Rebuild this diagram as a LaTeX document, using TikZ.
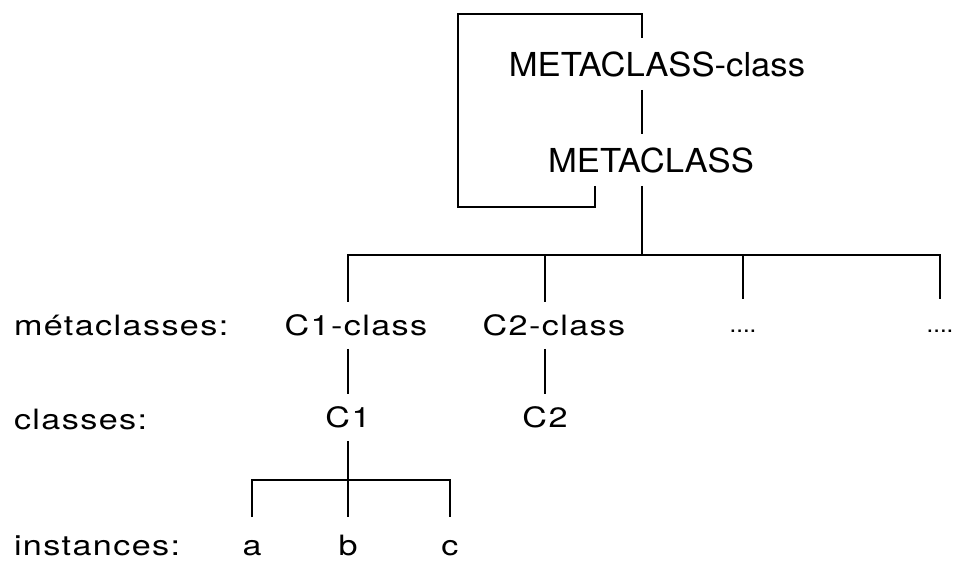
\documentclass[tikz,border=0pt]{standalone}
\usepackage{fontspec}
\newfontfamily\herosrow[FakeStretch=1.22, LetterSpace=5]{TeX Gyre Heros}
\newfontfamily\herostop[FakeStretch=1.05]{TeX Gyre Heros}
\newfontfamily\herosplain{TeX Gyre Heros}
\newcommand{\rowfont}{\herosrow\fontsize{28}{32}\selectfont}
\newcommand{\topfont}{\herostop\fontsize{33}{38}\selectfont}
\newcommand{\dotfont}{\herosplain\fontsize{24}{28}\selectfont}

\begin{document}
\begin{tikzpicture}[x=1pt, y=-1pt, line width=2pt,
    txt/.style = {anchor=base, inner xsep=0pt, inner ysep=12pt,
                  text height=21pt, text depth=0pt, font=\rowfont},
    toptxt/.style = {txt, text height=26pt, font=\topfont},
    dots/.style = {txt, font=\dotfont},
    row/.style = {txt, anchor=base west},
    low/.style = {inner ysep=2pt, text height=35pt}]
\useasboundingbox (0,0) rectangle (954,561);
\coordinate (spine) at (642,0);
\coordinate (hook) at (595,0);
\coordinate (loopsw) at (458,207);
\coordinate (loopnw) at (458,14);
\coordinate (bus) at (0,255);
\coordinate (ibus) at (0,480);

\node[toptxt] (metaclassclass) at (657,77) {METACLASS-class};
\node[toptxt] (metaclass) at (651,173) {METACLASS};

\node[row] (lmeta) at (13,336) {métaclasses:};
\node[row] (lclass) at (13,430) {classes:};
\node[row, low] (linst) at (13,555) {instances:};

\node[txt] (c1class) at (356,336) {C1-class};
\node[txt] (c2class) at (554,336) {C2-class};
\node[dots] (dots1) at (743,333) {....};
\node[dots] (dots2) at (940,333) {....};
\node[txt] (c1) at (348,428) {C1};
\node[txt] (c2) at (545,428) {C2};
\node[txt, low] (a) at (252,555) {a};
\node[txt, low] (b) at (348,555) {b};
\node[txt, low] (c) at (450,555) {c};

\draw (metaclass.south -| hook) |- (loopsw) -- (loopnw) -| (metaclassclass.north -| spine);
\draw (metaclassclass.south -| spine) -- (metaclass.north -| spine);
\draw (metaclass.south -| spine) -- (spine |- bus);
\draw (c1class.north -| c1) |- (dots2 |- bus) -- (dots2.north);
\draw (c2class.north -| c2) -- (c2 |- bus);
\draw (dots1.north) -- (dots1 |- bus);
\draw (c1class.south -| c1) -- (c1.north);
\draw (c2class.south -| c2) -- (c2.north);
\draw (c1.south) -- (b.north);
\draw (a.north) |- (c |- ibus) -- (c.north);
\end{tikzpicture}
\end{document}
